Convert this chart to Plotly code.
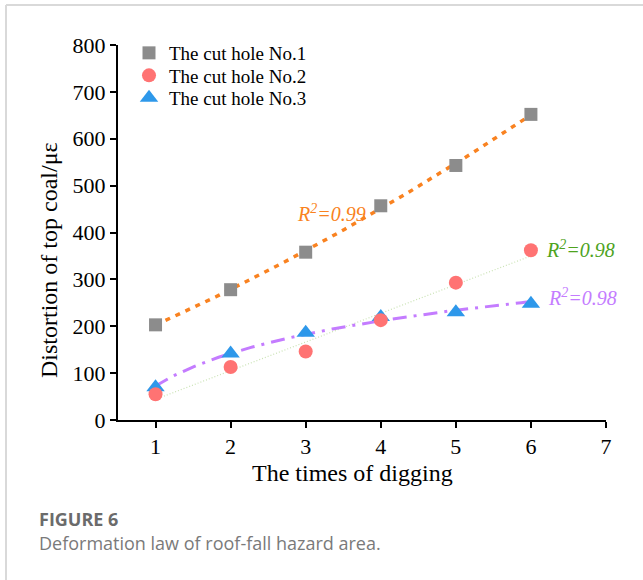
import numpy as np
import plotly.graph_objects as go

digs = [1, 2, 3, 4, 5, 6]
hole1 = [203, 278, 358, 457, 543, 652]
hole2 = [55, 113, 146, 213, 293, 362]
hole3 = [70, 142, 186, 220, 230, 248]
names = ["The cut hole No.1", "The cut hole No.2", "The cut hole No.3"]
x_ticks = [1, 2, 3, 4, 5, 6, 7]
y_ticks = [0, 100, 200, 300, 400, 500, 600, 700, 800]

x = np.array(digs, dtype=float)
xs = np.linspace(1, 6, 120)
fit1 = np.polyval(np.polyfit(x, hole1, 2), xs)
fit2 = np.polyval(np.polyfit(x, hole2, 1), xs)
c3 = np.polyfit(np.log(x), hole3, 1)
fit3 = c3[0] * np.log(xs) + c3[1]

serif = "Liberation Serif"


def px2paper(px, py):
    return (px - 118) / 488, (420 - py) / 375


fig = go.Figure()
fig.add_trace(go.Scatter(x=xs, y=fit1, mode="lines", showlegend=False, hoverinfo="skip",
                         line=dict(color="#f98220", width=3.5, dash="5px,6px")))
fig.add_trace(go.Scatter(x=xs, y=fit2, mode="lines", showlegend=False, hoverinfo="skip",
                         line=dict(color="#c9e2b3", width=1.2, dash="1px,2px")))
fig.add_trace(go.Scatter(x=xs, y=fit3, mode="lines", showlegend=False, hoverinfo="skip",
                         line=dict(color="#c47cff", width=3, dash="14px,7px,3px,7px")))
fig.add_trace(go.Scatter(x=digs, y=hole1, mode="markers", name=names[0], legend="legend",
                         marker=dict(symbol="square", size=13, color="#8c8c8c")))
fig.add_trace(go.Scatter(x=digs, y=hole3, mode="markers", name=names[2], legend="legend3",
                         marker=dict(symbol="triangle-up", size=16, color="#2e98ea")))
fig.add_trace(go.Scatter(x=digs, y=hole2, mode="markers", name=names[1], legend="legend2",
                         marker=dict(symbol="circle", size=14, color="#ff7373")))

leg_common = dict(xanchor="left", yanchor="middle", font=dict(family=serif, size=19, color="black"),
                  bgcolor="rgba(0,0,0,0)", itemsizing="trace")
lx, ly1 = px2paper(129, 53)
_, ly2 = px2paper(129, 75.5)
_, ly3 = px2paper(129, 98)

fig.update_layout(
    width=643, height=580,
    margin=dict(l=118, r=37, t=45, b=160),
    paper_bgcolor="white", plot_bgcolor="white",
    font=dict(family=serif, color="black"),
    showlegend=True,
    legend=dict(x=lx, y=ly1, **leg_common),
    legend2=dict(x=lx, y=ly2, **leg_common),
    legend3=dict(x=lx, y=ly3, **leg_common),
    xaxis=dict(range=[0.5, 7], tickvals=x_ticks, showline=True, linecolor="black", linewidth=2,
               ticks="outside", ticklen=6, tickwidth=1.5, tickcolor="black",
               showgrid=False, zeroline=False, tickfont=dict(size=22, family=serif, color="black")),
    yaxis=dict(range=[0, 800], tickvals=y_ticks, showline=True, linecolor="black", linewidth=2,
               ticks="outside", ticklen=6, tickwidth=1.5, tickcolor="black",
               showgrid=False, zeroline=False, tickfont=dict(size=22, family=serif, color="black")),
)

# axis titles
tx, ty = px2paper(352, 473)
fig.add_annotation(xref="paper", yref="paper", x=tx, y=ty, xanchor="center", yanchor="middle",
                   showarrow=False, text="The times of digging",
                   font=dict(family=serif, size=24, color="black"))
tx, ty = px2paper(49, 260)
fig.add_annotation(xref="paper", yref="paper", x=tx, y=ty, xanchor="center", yanchor="middle",
                   showarrow=False, textangle=-90, text="Distortion of top coal/με",
                   font=dict(family=serif, size=24, color="black"))

ann_font = dict(family=serif, size=20)
fig.add_annotation(x=3.35, y=442, text="<i>R<sup>2</sup>=0.99</i>", showarrow=False,
                   xanchor="center", yanchor="middle", font=dict(color="#f98220", **ann_font))
fig.add_annotation(x=6.18, y=364, text="<i>R<sup>2</sup>=0.98</i>", showarrow=False,
                   xanchor="left", yanchor="middle", font=dict(color="#4ea31e", **ann_font))
fig.add_annotation(x=6.2, y=262, text="<i>R<sup>2</sup>=0.98</i>", showarrow=False,
                   xanchor="left", yanchor="middle", font=dict(color="#c47cff", **ann_font))

# caption
cx, cy = px2paper(37, 519)
fig.add_annotation(xref="paper", yref="paper", x=cx, y=cy,
                   xanchor="left", yanchor="middle", showarrow=False, text="<b>FIGURE 6</b>",
                   font=dict(family="Open Sans", size=18, color="#6b6b6b"))
cx, cy = px2paper(37, 543)
fig.add_annotation(xref="paper", yref="paper", x=cx, y=cy,
                   xanchor="left", yanchor="middle", showarrow=False,
                   text="Deformation law of roof-fall hazard area.",
                   font=dict(family="Open Sans", size=18, color="#7a7a7a"))

# frame
fl, ft = px2paper(6, 5)
fr, fb = px2paper(650, 590)
fig.add_shape(type="line", xref="paper", yref="paper", x0=fl, x1=fr, y0=ft, y1=ft,
              line=dict(color="#d9d9d9", width=2))
fig.add_shape(type="line", xref="paper", yref="paper", x0=fl, x1=fl, y0=ft, y1=fb,
              line=dict(color="#d9d9d9", width=2))

fig.write_html("out.html")
